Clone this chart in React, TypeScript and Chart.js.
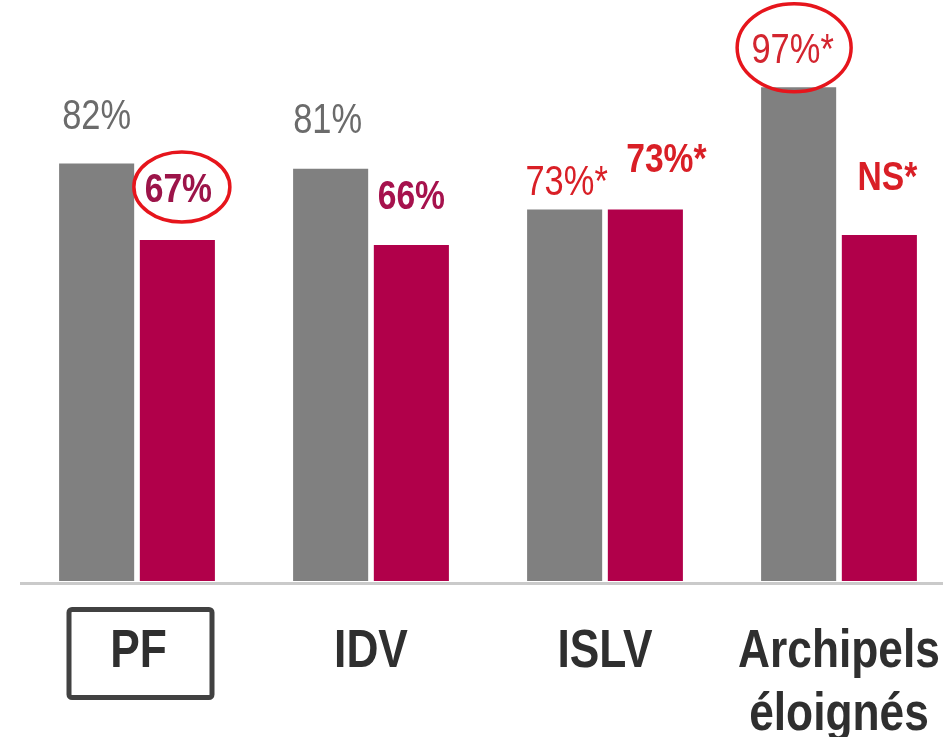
import React, { useEffect, useRef } from "react";
import { Chart, registerables } from "chart.js";

Chart.register(...registerables);

// ---- data ----
const categories: string[][] = [["PF"], ["IDV"], ["ISLV"], ["Archipels", "éloignés"]];
const seriesGray = [82, 81, 73, 97];
const seriesCrimson = [67, 66, 73, 68];
const grayLabels = ["82%", "81%", "73%*", "97%*"];
const crimsonLabels = ["67%", "66%", "73%*", "NS*"];

// ---- styles ----
const FONT = "'Liberation Sans', Arial, sans-serif";
const NARROW = 0.82; // horizontal squeeze to imitate a narrow face
const GRAY = "#808080";
const CRIMSON = "#b1004a";
const RED = "#d91f26";

type LabelStyle = { color: string; bold: boolean; size: number; dx: number; dy: number; ring?: { dx: number; dy: number; rx: number; ry: number } };

const grayStyles: LabelStyle[] = [
  { color: "#6b6b6b", bold: false, size: 42, dx: 0, dy: -35 },
  { color: "#6b6b6b", bold: false, size: 42, dx: -3, dy: -36 },
  { color: RED, bold: false, size: 42, dx: 2, dy: -14 },
  { color: "#d3252f", bold: false, size: 42, dx: -6, dy: -24, ring: { dx: 1.5, dy: -15.5, rx: 57, ry: 44 } },
];
const crimsonStyles: LabelStyle[] = [
  { color: "#9c1449", bold: true, size: 41, dx: 1, dy: -38, ring: { dx: 3.5, dy: -15, rx: 48, ry: 35 } },
  { color: "#a6124d", bold: true, size: 41, dx: 0, dy: -36 },
  { color: RED, bold: true, size: 41, dx: 21, dy: -37 },
  { color: RED, bold: true, size: 41, dx: 8, dy: -45 },
];

function narrowText(ctx: CanvasRenderingContext2D, text: string, x: number, y: number) {
  ctx.save();
  ctx.translate(x, y);
  ctx.scale(NARROW, 1);
  ctx.fillText(text, 0, 0);
  ctx.restore();
}

const annotate = {
  id: "annotate",
  afterDatasetsDraw(chart: any) {
    const ctx = chart.ctx as CanvasRenderingContext2D;
    const area = chart.chartArea;
    ctx.save();
    // baseline
    ctx.strokeStyle = "#cacaca";
    ctx.lineWidth = 3;
    ctx.beginPath();
    ctx.moveTo(area.left, area.bottom + 2.5);
    ctx.lineTo(area.right, area.bottom + 2.5);
    ctx.stroke();

    const sets: [string[], LabelStyle[]][] = [
      [grayLabels, grayStyles],
      [crimsonLabels, crimsonStyles],
    ];
    sets.forEach(([labels, styles], di) => {
      const meta = chart.getDatasetMeta(di);
      labels.forEach((text, i) => {
        const bar = meta.data[i];
        const st = styles[i];
        ctx.font = `${st.bold ? "bold " : ""}${st.size}px ${FONT}`;
        ctx.fillStyle = st.color;
        ctx.textAlign = "center";
        ctx.textBaseline = "alphabetic";
        const x = bar.x + st.dx;
        const y = bar.y + st.dy;
        narrowText(ctx, text, x, y);
        if (st.ring) {
          ctx.strokeStyle = "#e6151c";
          ctx.lineWidth = 3.5;
          ctx.beginPath();
          ctx.ellipse(x + st.ring.dx, y + st.ring.dy, st.ring.rx, st.ring.ry, 0, 0, Math.PI * 2);
          ctx.stroke();
        }
      });
    });

    // category labels
    const xs = chart.scales.x;
    ctx.font = `bold 54px ${FONT}`;
    ctx.fillStyle = "#2f2f2f";
    ctx.textAlign = "center";
    ctx.textBaseline = "alphabetic";
    categories.forEach((lines, i) => {
      const cx = xs.getPixelForValue(i);
      lines.forEach((line, li) => {
        narrowText(ctx, line, cx + (i === 0 ? 1.5 : 0), area.bottom + 86 + li * 63);
      });
    });

    // box around first category label
    const cx0 = xs.getPixelForValue(0) + 4;
    ctx.strokeStyle = "#414141";
    ctx.lineWidth = 5;
    ctx.beginPath();
    (ctx as any).roundRect(cx0 - 72, area.bottom + 28.5, 143, 88, 3);
    ctx.stroke();
    ctx.restore();
  },
};

export default function App() {
  const ref = useRef<HTMLCanvasElement>(null);
  useEffect(() => {
    if (!ref.current) return;
    const chart = new Chart(ref.current, {
      type: "bar",
      data: {
        labels: categories.map((l) => l.join(" ")),
        datasets: [
          { data: seriesGray, backgroundColor: GRAY, borderWidth: 0 },
          { data: seriesCrimson, backgroundColor: CRIMSON, borderWidth: 0 },
        ],
      },
      options: {
        responsive: false,
        maintainAspectRatio: false,
        animation: false,
        devicePixelRatio: 1,
        layout: { padding: { top: 72, left: 20, right: 4, bottom: 156 } },
        plugins: { legend: { display: false }, tooltip: { enabled: false }, title: { display: false } },
        datasets: { bar: { categoryPercentage: 0.69, barPercentage: 0.93 } },
        scales: {
          y: { display: false, min: 0, max: 100 },
          x: { display: false },
        },
      },
      plugins: [annotate],
    });
    return () => chart.destroy();
  }, []);
  return (
    <div style={{ position: "absolute", left: 0, top: 0, width: 943, height: 737, overflow: "hidden", background: "#fff" }}>
      <canvas ref={ref} width={960} height={737} style={{ display: "block", width: 960, height: 737 }} />
    </div>
  );
}
